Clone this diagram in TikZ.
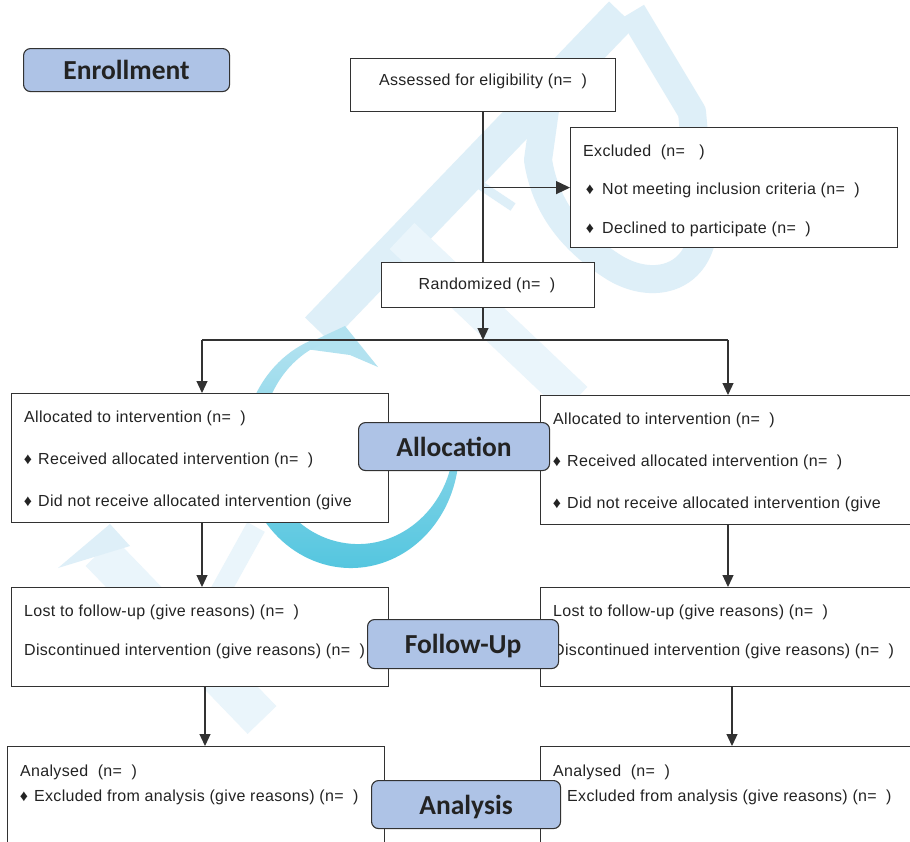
\documentclass[tikz,border=0pt]{standalone}
\usepackage{fontspec}
\setmainfont[LetterSpace=2]{Liberation Sans}
\newfontfamily\labelfont{Carlito}
\usetikzlibrary{arrows.meta}
\definecolor{labelblue}{RGB}{174,195,230}
\definecolor{edge}{RGB}{50,50,50}
\definecolor{txt}{RGB}{35,35,35}
\definecolor{wmlight}{RGB}{222,239,248}
\definecolor{wmpale}{RGB}{234,245,251}
\definecolor{wmcyan}{RGB}{78,196,222}
\definecolor{wmcyanl}{RGB}{178,226,240}
\begin{document}
\begin{tikzpicture}[x=1pt,y=-1pt,
  box/.style={draw=edge, line width=1.2pt, fill=white, rectangle, inner sep=0pt, anchor=north west},
  stage/.style={draw=edge, line width=1.1pt, fill=labelblue, rounded corners=7pt, inner sep=0pt,
     anchor=north west, text depth=0pt, font=\labelfont\bfseries\fontsize{27.5}{27.5}\selectfont, text=txt},
  lbl/.style={anchor=base west, inner sep=0pt, font=\fontsize{16}{19}\selectfont, text=txt},
  ctr/.style={anchor=center, inner sep=0pt, font=\fontsize{16}{19}\selectfont, text=txt},
  bul/.style={anchor=center, inner sep=0pt, font=\fontsize{16}{16}\selectfont, text=txt, yshift=-1.5pt},
  link/.style={draw=edge, line width=1.2pt},
  arr/.style={link, -{Triangle[length=12pt,width=11pt]}},
  bigarr/.style={link, -{Triangle[length=14pt,width=13pt]}},
]
\useasboundingbox (0,0) rectangle (910,841);
\clip (0,0) rectangle (910,841);
\fill[white] (0,0) rectangle (910,841);

% ---------- watermark ----------
\draw[wmlight, line width=36pt] (622,14) -- (318,330);
\draw[wmlight, line width=28pt, line join=round]
   (632,12) -- (692,112) -- (703,232)
   .. controls (696,280) and (652,290) .. (615,268)
   .. controls (570,240) and (545,205) .. (538,160) -- (545,110);
\draw[wmpale, line width=36pt] (402,236) -- (575,400);
\draw[wmlight, line width=9pt] (462,173) -- (513,207);
\draw[wmpale, line width=40pt] (100,552) -- (262,720);
\fill[wmlight] (58,568) -- (110,524) -- (130,546) -- cycle;
\draw[wmpale, line width=20pt] (220,592) -- (256,527);
\fill[wmcyanl] (298,348) -- (345,326) -- (378,367) -- (350,355) -- cycle;
\shade[top color=wmcyanl, bottom color=wmcyan]
   (310.5,340.6) arc[start angle=248, end angle=10, x radius=108, y radius=118]
   -- (452.5,458.1) arc[start angle=10, end angle=248, x radius=96, y radius=104] -- cycle;

% ---------- boxes ----------
\node[box, minimum width=265pt, minimum height=53pt] (assess) at (350,58) {};
\node[box, minimum width=327pt, minimum height=120pt] (excl) at (570,127) {};
\node[box, minimum width=213pt, minimum height=45pt] (rand) at (381,262) {};
\node[box, minimum width=377pt, minimum height=129pt] (allocL) at (11,393) {};
\node[box, minimum width=380pt, minimum height=129pt] (allocR) at (540,395) {};
\node[box, minimum width=377pt, minimum height=99pt] (fuL) at (11,587) {};
\node[box, minimum width=380pt, minimum height=99pt] (fuR) at (540,587) {};
\node[box, minimum width=377pt, minimum height=110pt] (anL) at (7,746) {};
\node[box, minimum width=380pt, minimum height=110pt] (anR) at (540,746) {};

% ---------- texts ----------
\node[ctr] (tAssess) at (483,81) {Assessed for eligibility (n=~~)};
\node[lbl] (tExcl) at (583,156) {Excluded~~(n=~~~)};
\node[bul] (bEx1) at (590,188) {♦};
\node[lbl] (tEx1) at (602,194) {Not meeting inclusion criteria (n=~~)};
\node[bul] (bEx2) at (590,227) {♦};
\node[lbl] (tEx2) at (602,233) {Declined to participate (n=~~)};
\node[ctr] (tRand) at (487,285) {Randomized (n=~~)};

\node[lbl] (tAL1) at (24,422) {Allocated to intervention (n=~~)};
\node[bul] (bAL2) at (28,458) {♦};
\node[lbl] (tAL2) at (38,464) {Received allocated intervention (n=~~)};
\node[bul] (bAL3) at (28,500) {♦};
\node[lbl] (tAL3) at (38,506) {Did not receive allocated intervention (give};

\node[lbl] (tAR1) at (553,424) {Allocated to intervention (n=~~)};
\node[bul] (bAR2) at (557,460) {♦};
\node[lbl] (tAR2) at (567,466) {Received allocated intervention (n=~~)};
\node[bul] (bAR3) at (557,502) {♦};
\node[lbl] (tAR3) at (567,508) {Did not receive allocated intervention (give};

\node[lbl] (tFL1) at (24,616) {Lost to follow-up (give reasons) (n=~~)};
\node[lbl] (tFL2) at (24,655) {Discontinued intervention (give reasons) (n=~~)};
\node[lbl] (tFR1) at (553,616) {Lost to follow-up (give reasons) (n=~~)};
\node[lbl] (tFR2) at (553,655) {Discontinued intervention (give reasons) (n=~~)};

\node[lbl] (tNL1) at (20,776) {Analysed~~(n=~~)};
\node[bul] (bNL2) at (24,795) {♦};
\node[lbl] (tNL2) at (34,801) {Excluded from analysis (give reasons) (n=~~)};
\node[lbl] (tNR1) at (553,776) {Analysed~~(n=~~)};
\node[bul] (bNR2) at (557,795) {♦};
\node[lbl] (tNR2) at (567,801) {Excluded from analysis (give reasons) (n=~~)};

% ---------- connectors ----------
\coordinate (trunk) at (483,0);
\coordinate (split) at (483,340);
\coordinate (splitL) at (202,340);
\coordinate (splitR) at (728,340);
\coordinate (colL) at (205,0);
\coordinate (colR) at (732,0);
\draw[link] (assess.south -| trunk) -- (rand.north -| trunk);
\draw[bigarr] (excl.west -| trunk) -- (excl.west);
\draw[arr] (rand.south -| trunk) -- (split);
\draw[link] (splitL) -- (splitR);
\draw[arr] (splitL) -- (allocL.north -| splitL);
\draw[arr] (splitR) -- (allocR.north -| splitR);
\draw[arr] (allocL.south -| splitL) -- (fuL.north -| splitL);
\draw[arr] (allocR.south -| splitR) -- (fuR.north -| splitR);
\draw[arr] (fuL.south -| colL) -- (anL.north -| colL);
\draw[arr] (fuR.south -| colR) -- (anR.north -| colR);

% ---------- stage labels ----------
\node[stage, minimum width=206pt, minimum height=43pt] (enroll) at (23,48) {Enrollment};
\node[stage, minimum width=191pt, minimum height=48pt] (alloc) at (358,422) {Allocation};
\node[stage, minimum width=191pt, minimum height=49pt] (follow) at (367,619) {Follow-Up};
\node[stage, minimum width=189pt, minimum height=48pt] (analysis) at (371,780) {Analysis};
\end{tikzpicture}
\end{document}
